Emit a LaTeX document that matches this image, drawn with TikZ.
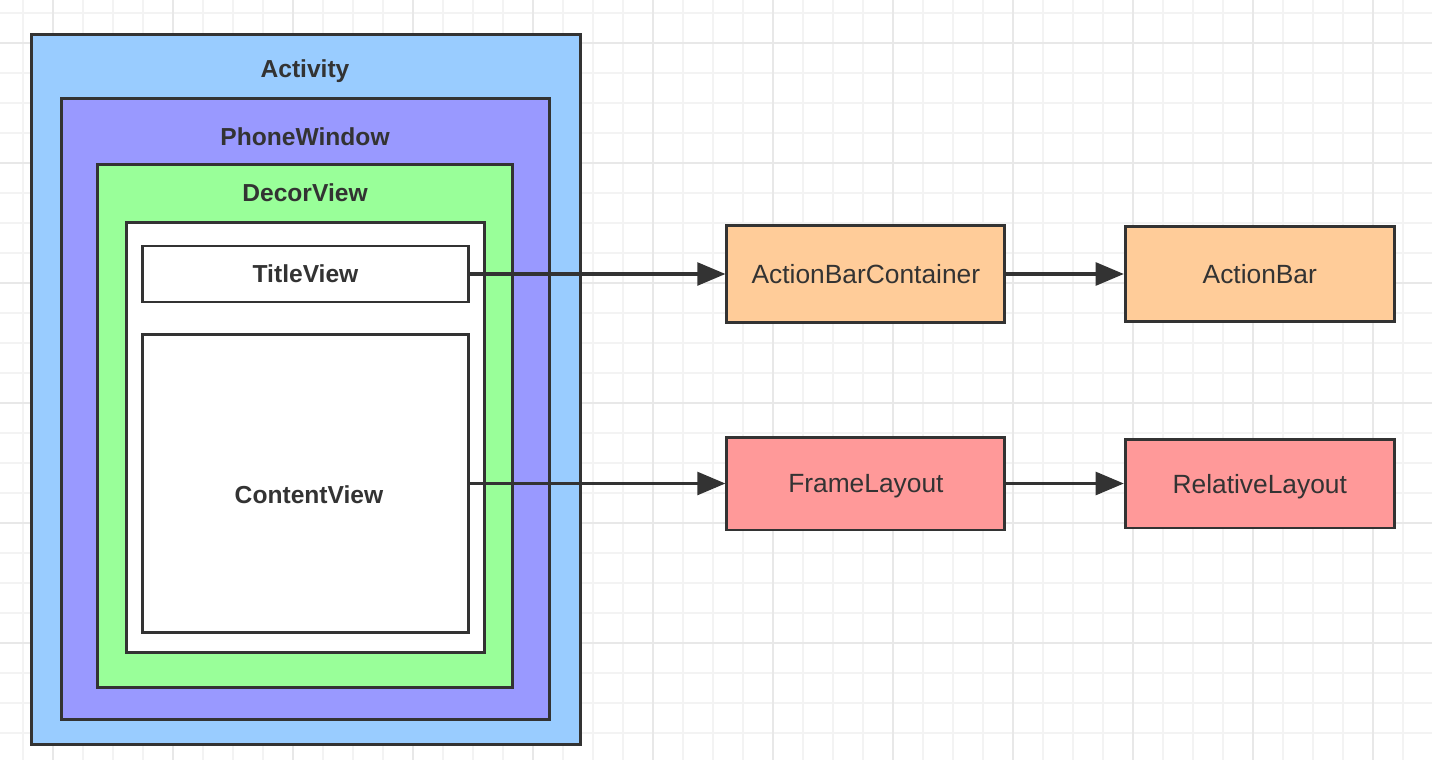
\documentclass[tikz,border=0pt]{standalone}
\usepackage{fontspec}
\setmainfont{Liberation Sans}
\usetikzlibrary{arrows.meta,positioning}

\definecolor{edgegray}{HTML}{333333}
\definecolor{activityblue}{HTML}{99CCFF}
\definecolor{windowviolet}{HTML}{9999FF}
\definecolor{decorgreen}{HTML}{99FF99}
\definecolor{baryellow}{HTML}{FFCC99}
\definecolor{layoutred}{HTML}{FF9999}
\definecolor{minorgrid}{HTML}{F3F3F3}
\definecolor{majorgrid}{HTML}{E8E8E8}

\begin{document}
\begin{tikzpicture}[x=0.02cm,y=-0.02cm,>={Triangle[length=16pt,width=13pt]},
	node distance=2cm,
	box/.style={rectangle,draw=edgegray,line width=1.7pt,inner sep=0pt},
	title/.style={text=edgegray,font=\fontsize{14}{16}\selectfont\bfseries},
	class node/.style={box,text=edgegray,font=\fontsize{15}{17}\selectfont,
		text depth=0pt,minimum width=5.56cm,minimum height=1.9cm},
	link/.style={->,draw=edgegray,fill=edgegray,line width=1.8pt}]
	
	% background grid
	\fill[white] (0,0) rectangle (1432,760);
	\useasboundingbox (0,0) rectangle (1432,760);
	\foreach \gx in {23,53,...,1432} \draw[minorgrid,line width=0.6pt] (\gx,0) -- (\gx,760);
	\foreach \gy in {13,43,...,760} \draw[minorgrid,line width=0.6pt] (0,\gy) -- (1432,\gy);
	\foreach \gx in {53,173,...,1432} \draw[majorgrid,line width=0.7pt] (\gx,0) -- (\gx,760);
	\foreach \gy in {43,163,...,760} \draw[majorgrid,line width=0.7pt] (0,\gy) -- (1432,\gy);
	
	% nested containers
	\node[box,fill=activityblue,minimum width=11cm,minimum height=14.22cm] (activity) at (306,389.5) {};
	\node[box,fill=windowviolet,minimum width=9.78cm,minimum height=12.44cm] (phonewindow) at (305.5,409) {};
	\node[box,fill=decorgreen,minimum width=8.32cm,minimum height=10.48cm] (decorview) at (305,426) {};
	\node[box,fill=white,minimum width=7.18cm,minimum height=8.62cm] (contentparent) at (305.5,437.5) {};
	\node[box,fill=white,minimum width=6.54cm,minimum height=1.12cm,title] (titleview) at (305.5,274) {TitleView};
	\node[box,fill=white,minimum width=6.54cm,minimum height=5.98cm] (contentview) at (305.5,483.5) {};
	
	\node[title] (activitytext) at (305,71) {Activity};
	\node[title] (phonewindowtext) at (305,137) {PhoneWindow};
	\node[title] (decorviewtext) at (305,193) {DecorView};
	\node[title] (contentviewtext) at (309,495) {ContentView};
	
	% view classes
	\node[class node,fill=baryellow,minimum height=1.96cm] (actionbarcontainer) [right=5.1cm of titleview] {ActionBarContainer};
	\node[class node,fill=baryellow,minimum width=5.38cm] (actionbar) [right=2.35cm of actionbarcontainer] {ActionBar};
	\node[class node,fill=layoutred,minimum height=1.86cm] (framelayout) [right=5.1cm of contentview] {FrameLayout};
	\node[class node,fill=layoutred,minimum width=5.38cm,minimum height=1.78cm] (relativelayout) [right=2.35cm of framelayout] {RelativeLayout};
	
	\draw[link] (titleview) -- (actionbarcontainer);
	\draw[link] (actionbarcontainer) -- (actionbar);
	\draw[link] (contentview) -- (framelayout);
	\draw[link] (framelayout) -- (relativelayout);
\end{tikzpicture}
\end{document}
